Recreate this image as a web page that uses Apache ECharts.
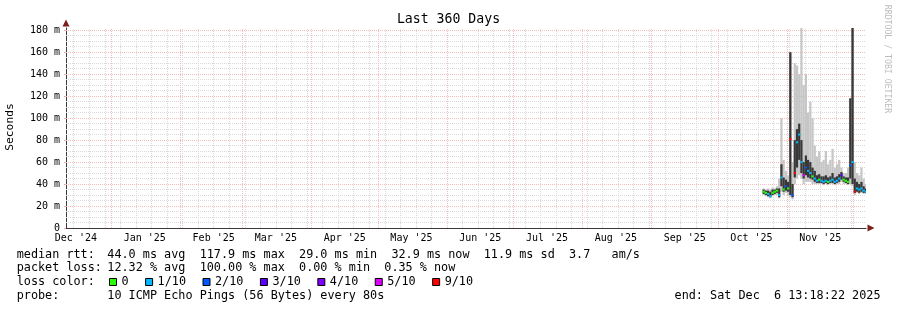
<!DOCTYPE html>
<html><head><meta charset="utf-8">
<script src="https://cdn.jsdelivr.net/npm/echarts@6/dist/echarts.min.js"></script>
<style>html,body{margin:0;padding:0;background:#fff}#c{width:897px;height:310px}</style>
</head><body><div id="c"></div>
<script>
// ---------- data (ms) ----------
const dates = ['2025-10-21','2025-10-22','2025-10-23','2025-10-24','2025-10-25','2025-10-26','2025-10-27','2025-10-28','2025-10-29','2025-10-30','2025-10-31',
 '2025-11-01','2025-11-02','2025-11-03','2025-11-04','2025-11-05','2025-11-06','2025-11-07','2025-11-08','2025-11-09','2025-11-10',
 '2025-11-11','2025-11-12','2025-11-13','2025-11-14','2025-11-15','2025-11-16','2025-11-17','2025-11-18','2025-11-19','2025-11-20',
 '2025-11-21','2025-11-22','2025-11-23','2025-11-24','2025-11-25','2025-11-26','2025-11-27','2025-11-28','2025-11-29','2025-11-30',
 '2025-12-01','2025-12-02','2025-12-03','2025-12-04','2025-12-05','2025-12-06'];
const median   = [33,32,31,29,32,33,34,30,46,35,38, 36,81,30,50,78,85,60,48,55,52, 50,47,45,43,44,43,42,43,42,43, 44,42,43,45,48,44,43,42,57,60, 33,36,35,36,34,33];
const lossTenths=[0,0,1,1,0,0,0,1,1,0,2, 0,9,2,9,1,1,1,5,2,1, 1,0,1,1,0,1,1,1,0,1, 1,1,1,1,3,0,0,0,2,1, 9,1,1,1,1,1];
const smokeMin = [30,29,28,27,29,30,30,27,33,30,32, 30,28,26,40,45,48,45,40,42,42, 42,40,40,40,40,40,39,40,39,40, 40,39,40,40,42,40,40,39,40,38, 30,32,31,32,31,31];
const smokeMax = [36,35,36,35,37,36,38,45,100,62,52, 48,160,60,150,148,140,182,130,140,105, 115,100,75,65,70,60,62,70,58,62, 72,55,58,62,55,50,50,55,118,182, 60,50,48,55,45,40];
const coreLo   = [31,30,29,28,30,31,32,28,38,33,34, 33,30,28,46,55,62,50,45,48,46, 45,44,42,41,41,41,40,41,40,41, 41,40,41,42,44,42,41,40,45,40, 32,33,32,33,32,32];
const coreHi   = [35,34,34,33,35,35,36,36,58,46,44, 42,160,40,80,90,95,80,60,66,62, 60,55,52,48,49,47,47,48,46,47, 50,46,47,49,51,47,46,46,118,182, 45,42,40,42,38,36];

const lossLevels = [0,1,2,3,4,5,9];
const lossLabels = ['0','1/10','2/10','3/10','4/10','5/10','9/10'];
const lossColors = ['#26ff00','#00b8ff','#0059ff','#5e00ff','#7e00ff','#dd00ff','#ff0000'];

const yTicks = [0,20,40,60,80,100,120,140,160,180];
const monthStarts = ['2025-01-01','2025-02-01','2025-03-01','2025-04-01','2025-05-01','2025-06-01','2025-07-01','2025-08-01','2025-09-01','2025-10-01','2025-11-01','2025-12-01'];
const monthLabelDates = ['2024-12-16','2025-01-16','2025-02-16','2025-03-16','2025-04-16','2025-05-16','2025-06-16','2025-07-16','2025-08-16','2025-09-16','2025-10-16','2025-11-16'];
const monthLabels = ["Dec '24","Jan '25","Feb '25","Mar '25","Apr '25","May '25","Jun '25","Jul '25","Aug '25","Sep '25","Oct '25","Nov '25"];

// ---------- helpers ----------
const DAY = 86400000, HALF = DAY/2;
const X_MIN = Date.UTC(2024,11,11,13,18,22);
const X_MAX = Date.UTC(2025,11,6,13,18,22);
const Y_MAX = 182;
const tOf = d => new Date(d + 'T12:00:00Z').getTime();
const tMid = d => new Date(d + 'T00:00:00Z').getTime();
const times = dates.map(tOf);
const labelTimes = monthLabelDates.map(tMid);
const monthTimes = monthStarts.map(tMid);

const MONO = '"DejaVu Sans Mono", monospace';
const minorStyle = {color:'#d9d9d9', type:[1,1], width:1};
const majorStyle = {color:'#f7bcbc', type:[1,1], width:1};

const gridLines = [];
for (let v = 5; v <= 180; v += 5) if (v % 20) gridLines.push({yAxis:v, lineStyle:minorStyle});
let sun = Date.UTC(2024,11,15);
for (; sun < X_MAX; sun += 7*DAY) if (!monthTimes.includes(sun)) gridLines.push({xAxis:sun, lineStyle:minorStyle});
yTicks.filter(v => v > 0).forEach(v => gridLines.push({yAxis:v, lineStyle:majorStyle}));
monthTimes.forEach(t => gridLines.push({xAxis:t, lineStyle:majorStyle}));

function bandItem(params, api) {
  const t = api.value(0), lo = api.value(1), hi = api.value(2);
  const p1 = api.coord([t - HALF, hi]);
  const p2 = api.coord([t + HALF, lo]);
  return {type:'rect', shape:{x:p1[0], y:p1[1], width:p2[0]-p1[0], height:Math.max(1, p2[1]-p1[1])},
          style:{fill: api.visual('color')}};
}
function medItem(params, api) {
  const t = api.value(0), m = api.value(1);
  const b = api.coord([t - HALF, m]), c = api.coord([t + HALF, m]);
  return {type:'line', shape:{x1:b[0], y1:b[1], x2:c[0], y2:c[1]}, style:{stroke: api.visual('color'), lineWidth:2}};
}

const outerData = times.map((t,i) => [t, smokeMin[i], smokeMax[i]]);
const coreData  = times.map((t,i) => [t, coreLo[i], coreHi[i]]);

const series = [
  {type:'custom', name:'smoke', renderItem:bandItem, data:outerData, clip:true, z:2,
   encode:{x:0, y:[1,2]}, itemStyle:{color:'#c6c6c6'}, silent:true,
   markLine:{silent:true, z:1, symbol:['none','none'], label:{show:false}, animation:false, data:gridLines},
   markPoint:{silent:true, animation:false, label:{show:false}, data:[
     {coord:[X_MAX, 0], symbol:'triangle', symbolRotate:-90, symbolSize:[7,7], symbolOffset:[5,0], itemStyle:{color:'#7e1f1f'}},
     {coord:[X_MIN, Y_MAX], symbol:'triangle', symbolSize:[7,7], symbolOffset:[0,-5], itemStyle:{color:'#7e1f1f'}}
   ]}},
  {type:'custom', name:'core', renderItem:bandItem, data:coreData, clip:true, z:3,
   encode:{x:0, y:[1,2]}, itemStyle:{color:'#383838'}, silent:true}
];
lossLevels.forEach((lv, k) => {
  const d = [];
  times.forEach((t,i) => { if (lossTenths[i] === lv) d.push([t, median[i]]); });
  series.push({type:'custom', name:lossLabels[k], renderItem:medItem, data:d, clip:true, z:4,
    encode:{x:0, y:1}, itemStyle:{color:lossColors[k]}, silent:true});
});

const txt = (x, y, text, extra) => ({type:'text', x, y, silent:true,
  style:Object.assign({text, font:'11.8px ' + MONO, fill:'#000', verticalAlign:'middle', align:'left'}, extra || {})});

const chart = echarts.init(document.getElementById('c'), null, {renderer:'canvas'});
chart.setOption({
  animation:false,
  backgroundColor:'#ffffff',
  grid:{left:66, right:31, top:28, bottom:82, containLabel:false},
  xAxis:{type:'value', min:X_MIN, max:X_MAX,
    axisLine:{show:true, lineStyle:{color:'#3a3a3a', width:1}},
    axisTick:{show:false},
    splitLine:{show:false},
    axisLabel:{customValues:labelTimes, margin:5, color:'#000', fontFamily:MONO, fontSize:10,
      formatter:v => { const i = labelTimes.indexOf(v); return i >= 0 ? monthLabels[i] : ''; }}},
  yAxis:{type:'value', min:0, max:Y_MAX,
    axisLine:{show:true, lineStyle:{color:'#3a3a3a', width:1}},
    axisTick:{show:true, customValues:yTicks, length:2, lineStyle:{color:'#eeaaaa'}},
    splitLine:{show:false},
    axisLabel:{customValues:yTicks, margin:6, color:'#000', fontFamily:MONO, fontSize:10,
      formatter:v => v === 0 ? '0' : v + ' m'}},
  legend:{data:lossLabels, left:109, top:275, icon:'rect', itemWidth:7, itemHeight:7, itemGap:16.5, padding:0,
    selectedMode:false, itemStyle:{borderColor:'#000', borderWidth:1},
    textStyle:{fontFamily:MONO, fontSize:11.8, color:'#000', lineHeight:14}},
  graphic:[
    txt(448.5, 19.5, 'Last 360 Days', {font:'13.2px ' + MONO, align:'center'}),
    {type:'text', x:10, y:127, rotation:Math.PI/2, silent:true,
     style:{text:'Seconds', font:'11.3px ' + MONO, fill:'#000', align:'center', verticalAlign:'middle'}},
    {type:'text', x:887, y:59, rotation:-Math.PI/2, silent:true,
     style:{text:'RRDTOOL / TOBI OETIKER', font:'8.2px ' + MONO, fill:'#bdbdbd', align:'center', verticalAlign:'middle'}},
    txt(16.7, 254.7, 'median rtt:'),
    txt(107.3, 254.7, '44.0 ms avg  117.9 ms max  29.0 ms min  32.9 ms now  11.9 ms sd  3.7   am/s'),
    txt(16.7, 268.3, 'packet loss:'),
    txt(107.3, 268.3, '12.32 % avg  100.00 % max  0.00 % min  0.35 % now'),
    txt(16.7, 282.3, 'loss color:'),
    txt(16.7, 296, 'probe:'),
    txt(107.3, 296, '10 ICMP Echo Pings (56 Bytes) every 80s'),
    txt(880.5, 296, 'end: Sat Dec  6 13:18:22 2025', {align:'right'})
  ],
  series
});
</script></body></html>
